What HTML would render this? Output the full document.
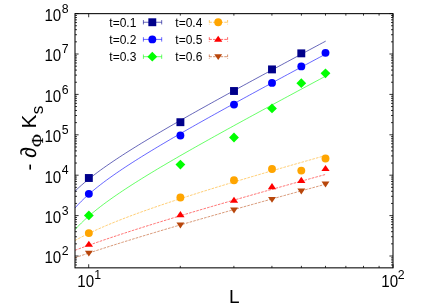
<!DOCTYPE html>
<html><head><meta charset="utf-8"><title>chart</title>
<style>html,body{margin:0;padding:0;background:#fff;}svg{display:block;will-change:transform;font-family:"Liberation Sans",sans-serif;}</style></head><body>
<svg width="436" height="305" viewBox="0 0 436 305">
<rect width="436" height="305" fill="#fff"/>
<path d="M75.0,256.00h3.6 M393.0,256.00h-3.6 M75.0,215.60h3.6 M393.0,215.60h-3.6 M75.0,175.20h3.6 M393.0,175.20h-3.6 M75.0,134.80h3.6 M393.0,134.80h-3.6 M75.0,94.40h3.6 M393.0,94.40h-3.6 M75.0,54.00h3.6 M393.0,54.00h-3.6 M75.0,13.60h3.6 M393.0,13.60h-3.6 M88.70,267.85v-3.6 M88.70,13.65v3.6 M393.00,267.85v-3.6 M393.00,13.65v3.6" stroke="#000" stroke-width="0.8" fill="none"/>
<path d="M75.0,264.96h2.0 M393.0,264.96h-2.0 M75.0,262.26h2.0 M393.0,262.26h-2.0 M75.0,259.92h2.0 M393.0,259.92h-2.0 M75.0,257.85h2.0 M393.0,257.85h-2.0 M75.0,243.84h2.0 M393.0,243.84h-2.0 M75.0,236.72h2.0 M393.0,236.72h-2.0 M75.0,231.68h2.0 M393.0,231.68h-2.0 M75.0,227.76h2.0 M393.0,227.76h-2.0 M75.0,224.56h2.0 M393.0,224.56h-2.0 M75.0,221.86h2.0 M393.0,221.86h-2.0 M75.0,219.52h2.0 M393.0,219.52h-2.0 M75.0,217.45h2.0 M393.0,217.45h-2.0 M75.0,203.44h2.0 M393.0,203.44h-2.0 M75.0,196.32h2.0 M393.0,196.32h-2.0 M75.0,191.28h2.0 M393.0,191.28h-2.0 M75.0,187.36h2.0 M393.0,187.36h-2.0 M75.0,184.16h2.0 M393.0,184.16h-2.0 M75.0,181.46h2.0 M393.0,181.46h-2.0 M75.0,179.12h2.0 M393.0,179.12h-2.0 M75.0,177.05h2.0 M393.0,177.05h-2.0 M75.0,163.04h2.0 M393.0,163.04h-2.0 M75.0,155.92h2.0 M393.0,155.92h-2.0 M75.0,150.88h2.0 M393.0,150.88h-2.0 M75.0,146.96h2.0 M393.0,146.96h-2.0 M75.0,143.76h2.0 M393.0,143.76h-2.0 M75.0,141.06h2.0 M393.0,141.06h-2.0 M75.0,138.72h2.0 M393.0,138.72h-2.0 M75.0,136.65h2.0 M393.0,136.65h-2.0 M75.0,122.64h2.0 M393.0,122.64h-2.0 M75.0,115.52h2.0 M393.0,115.52h-2.0 M75.0,110.48h2.0 M393.0,110.48h-2.0 M75.0,106.56h2.0 M393.0,106.56h-2.0 M75.0,103.36h2.0 M393.0,103.36h-2.0 M75.0,100.66h2.0 M393.0,100.66h-2.0 M75.0,98.32h2.0 M393.0,98.32h-2.0 M75.0,96.25h2.0 M393.0,96.25h-2.0 M75.0,82.24h2.0 M393.0,82.24h-2.0 M75.0,75.12h2.0 M393.0,75.12h-2.0 M75.0,70.08h2.0 M393.0,70.08h-2.0 M75.0,66.16h2.0 M393.0,66.16h-2.0 M75.0,62.96h2.0 M393.0,62.96h-2.0 M75.0,60.26h2.0 M393.0,60.26h-2.0 M75.0,57.92h2.0 M393.0,57.92h-2.0 M75.0,55.85h2.0 M393.0,55.85h-2.0 M75.0,41.84h2.0 M393.0,41.84h-2.0 M75.0,34.72h2.0 M393.0,34.72h-2.0 M75.0,29.68h2.0 M393.0,29.68h-2.0 M75.0,25.76h2.0 M393.0,25.76h-2.0 M75.0,22.56h2.0 M393.0,22.56h-2.0 M75.0,19.86h2.0 M393.0,19.86h-2.0 M75.0,17.52h2.0 M393.0,17.52h-2.0 M75.0,15.45h2.0 M393.0,15.45h-2.0 M180.30,267.85v-2.0 M180.30,13.65v2.0 M233.89,267.85v-2.0 M233.89,13.65v2.0 M271.91,267.85v-2.0 M271.91,13.65v2.0 M301.40,267.85v-2.0 M301.40,13.65v2.0 M325.49,267.85v-2.0 M325.49,13.65v2.0 M345.86,267.85v-2.0 M345.86,13.65v2.0 M363.51,267.85v-2.0 M363.51,13.65v2.0 M379.08,267.85v-2.0 M379.08,13.65v2.0" stroke="#000" stroke-width="0.8" fill="none"/>
<clipPath id="cp"><rect x="75.0" y="13.65" width="318.0" height="254.20000000000002"/></clipPath>
<g clip-path="url(#cp)" fill="none" stroke-width="0.6">
<path d="M75.00,191.16 L78.17,188.17 L81.35,185.31 L84.52,182.58 L87.69,179.96 L90.87,177.42 L94.04,174.96 L97.21,172.57 L100.39,170.23 L103.56,167.95 L106.73,165.72 L109.91,163.52 L113.08,161.36 L116.25,159.24 L119.43,157.15 L122.60,155.08 L125.77,153.04 L128.95,151.02 L132.12,149.03 L135.29,147.05 L138.47,145.09 L141.64,143.15 L144.82,141.23 L147.99,139.31 L151.16,137.42 L154.34,135.53 L157.51,133.66 L160.68,131.79 L163.86,129.94 L167.03,128.09 L170.20,126.26 L173.38,124.43 L176.55,122.61 L179.72,120.80 L182.90,118.99 L186.07,117.20 L189.24,115.40 L192.42,113.62 L195.59,111.83 L198.76,110.06 L201.94,108.28 L205.11,106.52 L208.28,104.75 L211.46,102.99 L214.63,101.24 L217.80,99.48 L220.98,97.74 L224.15,95.99 L227.32,94.25 L230.50,92.51 L233.67,90.77 L236.84,89.04 L240.02,87.30 L243.19,85.57 L246.36,83.85 L249.54,82.12 L252.71,80.40 L255.88,78.68 L259.06,76.96 L262.23,75.24 L265.41,73.52 L268.58,71.81 L271.75,70.09 L274.93,68.38 L278.10,66.67 L281.27,64.96 L284.45,63.25 L287.62,61.54 L290.79,59.84 L293.97,58.13 L297.14,56.43 L300.31,54.73 L303.49,53.02 L306.66,51.32 L309.83,49.62 L313.01,47.92 L316.18,46.22 L319.35,44.52 L322.53,42.82 L325.70,41.13" stroke="#00008b"/>
<path d="M75.00,208.00 L78.17,204.50 L81.35,201.24 L84.52,198.17 L87.69,195.27 L90.87,192.49 L94.04,189.83 L97.21,187.26 L100.39,184.77 L103.56,182.35 L106.73,179.99 L109.91,177.69 L113.08,175.44 L116.25,173.23 L119.43,171.05 L122.60,168.92 L125.77,166.81 L128.95,164.74 L132.12,162.69 L135.29,160.66 L138.47,158.66 L141.64,156.67 L144.82,154.71 L147.99,152.76 L151.16,150.83 L154.34,148.91 L157.51,147.01 L160.68,145.12 L163.86,143.24 L167.03,141.37 L170.20,139.51 L173.38,137.67 L176.55,135.83 L179.72,134.00 L182.90,132.17 L186.07,130.36 L189.24,128.55 L192.42,126.75 L195.59,124.95 L198.76,123.16 L201.94,121.38 L205.11,119.60 L208.28,117.83 L211.46,116.06 L214.63,114.29 L217.80,112.53 L220.98,110.77 L224.15,109.02 L227.32,107.27 L230.50,105.52 L233.67,103.78 L236.84,102.04 L240.02,100.30 L243.19,98.57 L246.36,96.83 L249.54,95.10 L252.71,93.37 L255.88,91.65 L259.06,89.92 L262.23,88.20 L265.41,86.48 L268.58,84.76 L271.75,83.04 L274.93,81.33 L278.10,79.61 L281.27,77.90 L284.45,76.19 L287.62,74.48 L290.79,72.77 L293.97,71.06 L297.14,69.36 L300.31,67.65 L303.49,65.95 L306.66,64.24 L309.83,62.54 L313.01,60.84 L316.18,59.14 L319.35,57.44 L322.53,55.74 L325.70,54.04" stroke="#0000ff"/>
<path d="M75.00,229.66 L78.17,226.21 L81.35,223.00 L84.52,219.97 L87.69,217.09 L90.87,214.34 L94.04,211.70 L97.21,209.15 L100.39,206.67 L103.56,204.27 L106.73,201.92 L109.91,199.63 L113.08,197.39 L116.25,195.19 L119.43,193.02 L122.60,190.89 L125.77,188.79 L128.95,186.72 L132.12,184.68 L135.29,182.66 L138.47,180.66 L141.64,178.68 L144.82,176.72 L147.99,174.77 L151.16,172.85 L154.34,170.93 L157.51,169.03 L160.68,167.14 L163.86,165.27 L167.03,163.40 L170.20,161.55 L173.38,159.70 L176.55,157.86 L179.72,156.03 L182.90,154.21 L186.07,152.40 L189.24,150.59 L192.42,148.79 L195.59,147.00 L198.76,145.21 L201.94,143.43 L205.11,141.65 L208.28,139.88 L211.46,138.11 L214.63,136.34 L217.80,134.58 L220.98,132.83 L224.15,131.07 L227.32,129.32 L230.50,127.58 L233.67,125.83 L236.84,124.09 L240.02,122.36 L243.19,120.62 L246.36,118.89 L249.54,117.16 L252.71,115.43 L255.88,113.71 L259.06,111.98 L262.23,110.26 L265.41,108.54 L268.58,106.82 L271.75,105.10 L274.93,103.39 L278.10,101.68 L281.27,99.96 L284.45,98.25 L287.62,96.54 L290.79,94.83 L293.97,93.13 L297.14,91.42 L300.31,89.71 L303.49,88.01 L306.66,86.31 L309.83,84.60 L313.01,82.90 L316.18,81.20 L319.35,79.50 L322.53,77.80 L325.70,76.10" stroke="#00ff00"/>
<path d="M75.00,240.53 L78.17,238.79 L81.35,237.12 L84.52,235.51 L87.69,233.95 L90.87,232.43 L94.04,230.95 L97.21,229.50 L100.39,228.09 L103.56,226.71 L106.73,225.36 L109.91,224.04 L113.08,222.74 L116.25,221.46 L119.43,220.20 L122.60,218.96 L125.77,217.74 L128.95,216.54 L132.12,215.35 L135.29,214.17 L138.47,213.01 L141.64,211.86 L144.82,210.73 L147.99,209.61 L151.16,208.49 L154.34,207.39 L157.51,206.30 L160.68,205.21 L163.86,204.14 L167.03,203.07 L170.20,202.02 L173.38,200.97 L176.55,199.92 L179.72,198.89 L182.90,197.86 L186.07,196.83 L189.24,195.82 L192.42,194.81 L195.59,193.80 L198.76,192.80 L201.94,191.80 L205.11,190.81 L208.28,189.83 L211.46,188.85 L214.63,187.87 L217.80,186.90 L220.98,185.93 L224.15,184.96 L227.32,184.00 L230.50,183.05 L233.67,182.09 L236.84,181.14 L240.02,180.19 L243.19,179.25 L246.36,178.31 L249.54,177.37 L252.71,176.43 L255.88,175.50 L259.06,174.57 L262.23,173.64 L265.41,172.72 L268.58,171.79 L271.75,170.87 L274.93,169.95 L278.10,169.04 L281.27,168.12 L284.45,167.21 L287.62,166.30 L290.79,165.39 L293.97,164.48 L297.14,163.58 L300.31,162.67 L303.49,161.77 L306.66,160.87 L309.83,159.97 L313.01,159.07 L316.18,158.18 L319.35,157.28 L322.53,156.39 L325.70,155.50" stroke="#ffa500" stroke-dasharray="2.6 1.15" stroke-width="0.55"/>
<path d="M75.00,250.29 L78.17,249.10 L81.35,247.94 L84.52,246.78 L87.69,245.64 L90.87,244.51 L94.04,243.39 L97.21,242.28 L100.39,241.19 L103.56,240.10 L106.73,239.02 L109.91,237.95 L113.08,236.89 L116.25,235.83 L119.43,234.78 L122.60,233.75 L125.77,232.71 L128.95,231.69 L132.12,230.67 L135.29,229.65 L138.47,228.64 L141.64,227.64 L144.82,226.64 L147.99,225.65 L151.16,224.66 L154.34,223.68 L157.51,222.70 L160.68,221.72 L163.86,220.75 L167.03,219.78 L170.20,218.82 L173.38,217.86 L176.55,216.91 L179.72,215.95 L182.90,215.00 L186.07,214.06 L189.24,213.11 L192.42,212.17 L195.59,211.24 L198.76,210.30 L201.94,209.37 L205.11,208.44 L208.28,207.51 L211.46,206.59 L214.63,205.67 L217.80,204.75 L220.98,203.83 L224.15,202.91 L227.32,202.00 L230.50,201.09 L233.67,200.18 L236.84,199.27 L240.02,198.36 L243.19,197.46 L246.36,196.56 L249.54,195.66 L252.71,194.76 L255.88,193.86 L259.06,192.96 L262.23,192.07 L265.41,191.17 L268.58,190.28 L271.75,189.39 L274.93,188.50 L278.10,187.61 L281.27,186.72 L284.45,185.84 L287.62,184.95 L290.79,184.07 L293.97,183.19 L297.14,182.30 L300.31,181.42 L303.49,180.54 L306.66,179.66 L309.83,178.79 L313.01,177.91 L316.18,177.03 L319.35,176.16 L322.53,175.28 L325.70,174.41" stroke="#ff0000" stroke-dasharray="2.6 1.15" stroke-width="0.55"/>
<path d="M75.00,257.70 L78.17,256.62 L81.35,255.55 L84.52,254.49 L87.69,253.43 L90.87,252.38 L94.04,251.35 L97.21,250.31 L100.39,249.29 L103.56,248.27 L106.73,247.25 L109.91,246.24 L113.08,245.24 L116.25,244.24 L119.43,243.25 L122.60,242.26 L125.77,241.28 L128.95,240.30 L132.12,239.32 L135.29,238.35 L138.47,237.39 L141.64,236.42 L144.82,235.46 L147.99,234.51 L151.16,233.56 L154.34,232.61 L157.51,231.66 L160.68,230.72 L163.86,229.78 L167.03,228.84 L170.20,227.91 L173.38,226.97 L176.55,226.04 L179.72,225.12 L182.90,224.19 L186.07,223.27 L189.24,222.35 L192.42,221.43 L195.59,220.52 L198.76,219.60 L201.94,218.69 L205.11,217.78 L208.28,216.87 L211.46,215.97 L214.63,215.06 L217.80,214.16 L220.98,213.26 L224.15,212.36 L227.32,211.46 L230.50,210.57 L233.67,209.67 L236.84,208.78 L240.02,207.88 L243.19,206.99 L246.36,206.10 L249.54,205.22 L252.71,204.33 L255.88,203.44 L259.06,202.56 L262.23,201.67 L265.41,200.79 L268.58,199.91 L271.75,199.03 L274.93,198.15 L278.10,197.27 L281.27,196.39 L284.45,195.51 L287.62,194.64 L290.79,193.76 L293.97,192.89 L297.14,192.01 L300.31,191.14 L303.49,190.27 L306.66,189.40 L309.83,188.53 L313.01,187.66 L316.18,186.79 L319.35,185.92 L322.53,185.05 L325.70,184.19" stroke="#b8460b" stroke-dasharray="2.6 1.15" stroke-width="0.55"/>
</g>
<rect x="84.90" y="174.05" width="7.9" height="7.9" fill="#00008b"/>
<rect x="176.45" y="118.25" width="7.9" height="7.9" fill="#00008b"/>
<rect x="230.05" y="87.05" width="7.9" height="7.9" fill="#00008b"/>
<rect x="268.05" y="65.45" width="7.9" height="7.9" fill="#00008b"/>
<rect x="297.35" y="49.40" width="7.9" height="7.9" fill="#00008b"/>
<circle cx="88.85" cy="193.85" r="3.95" fill="#0000ff"/>
<circle cx="180.40" cy="135.45" r="3.95" fill="#0000ff"/>
<circle cx="234.00" cy="104.60" r="3.95" fill="#0000ff"/>
<circle cx="272.00" cy="82.90" r="3.95" fill="#0000ff"/>
<circle cx="301.30" cy="66.40" r="3.95" fill="#0000ff"/>
<circle cx="325.50" cy="52.85" r="3.95" fill="#0000ff"/>
<path d="M88.85,210.55 L93.75,215.45 L88.85,220.35 L83.95,215.45 Z" fill="#00ff00"/>
<path d="M180.40,159.70 L185.30,164.60 L180.40,169.50 L175.50,164.60 Z" fill="#00ff00"/>
<path d="M234.00,132.60 L238.90,137.50 L234.00,142.40 L229.10,137.50 Z" fill="#00ff00"/>
<path d="M272.00,103.50 L276.90,108.40 L272.00,113.30 L267.10,108.40 Z" fill="#00ff00"/>
<path d="M301.30,78.30 L306.20,83.20 L301.30,88.10 L296.40,83.20 Z" fill="#00ff00"/>
<path d="M325.50,68.45 L330.40,73.35 L325.50,78.25 L320.60,73.35 Z" fill="#00ff00"/>
<circle cx="88.85" cy="233.10" r="3.95" fill="#ffa500"/>
<circle cx="180.40" cy="197.50" r="3.95" fill="#ffa500"/>
<circle cx="234.00" cy="180.20" r="3.95" fill="#ffa500"/>
<circle cx="272.00" cy="169.00" r="3.95" fill="#ffa500"/>
<circle cx="301.30" cy="170.60" r="3.95" fill="#ffa500"/>
<circle cx="325.50" cy="158.50" r="3.95" fill="#ffa500"/>
<path d="M88.85,240.70 L93.00,246.85 L84.70,246.85 Z" fill="#ff0000"/>
<path d="M180.40,211.10 L184.55,217.25 L176.25,217.25 Z" fill="#ff0000"/>
<path d="M234.00,196.70 L238.15,202.85 L229.85,202.85 Z" fill="#ff0000"/>
<path d="M272.00,183.10 L276.15,189.25 L267.85,189.25 Z" fill="#ff0000"/>
<path d="M301.30,176.80 L305.45,182.95 L297.15,182.95 Z" fill="#ff0000"/>
<path d="M325.50,164.90 L329.65,171.05 L321.35,171.05 Z" fill="#ff0000"/>
<path d="M88.85,256.60 L92.80,250.70 L84.90,250.70 Z" fill="#b8460b"/>
<path d="M180.40,228.40 L184.35,222.50 L176.45,222.50 Z" fill="#b8460b"/>
<path d="M234.00,213.50 L237.95,207.60 L230.05,207.60 Z" fill="#b8460b"/>
<path d="M272.00,202.80 L275.95,196.90 L268.05,196.90 Z" fill="#b8460b"/>
<path d="M301.30,194.40 L305.25,188.50 L297.35,188.50 Z" fill="#b8460b"/>
<path d="M325.50,187.50 L329.45,181.60 L321.55,181.60 Z" fill="#b8460b"/>
<rect x="75.0" y="13.65" width="318.0" height="254.20000000000002" fill="none" stroke="#000" stroke-width="1.05"/>
<text transform="translate(61.20,263.30) scale(0.9,1)" font-size="16.8" text-anchor="end">10</text><text x="61.65" y="255.15" font-size="12.3">2</text>
<text transform="translate(61.20,222.90) scale(0.9,1)" font-size="16.8" text-anchor="end">10</text><text x="61.65" y="214.75" font-size="12.3">3</text>
<text transform="translate(61.20,182.50) scale(0.9,1)" font-size="16.8" text-anchor="end">10</text><text x="61.65" y="174.35" font-size="12.3">4</text>
<text transform="translate(61.20,142.10) scale(0.9,1)" font-size="16.8" text-anchor="end">10</text><text x="61.65" y="133.95" font-size="12.3">5</text>
<text transform="translate(61.20,101.70) scale(0.9,1)" font-size="16.8" text-anchor="end">10</text><text x="61.65" y="93.55" font-size="12.3">6</text>
<text transform="translate(61.20,61.30) scale(0.9,1)" font-size="16.8" text-anchor="end">10</text><text x="61.65" y="53.15" font-size="12.3">7</text>
<text transform="translate(61.20,20.90) scale(0.9,1)" font-size="16.8" text-anchor="end">10</text><text x="61.65" y="12.75" font-size="12.3">8</text>
<text transform="translate(94.05,286.80) scale(0.9,1)" font-size="16.8" text-anchor="end">10</text><text x="94.30" y="278.70" font-size="12.3">1</text>
<text transform="translate(398.05,286.80) scale(0.9,1)" font-size="16.8" text-anchor="end">10</text><text x="397.80" y="278.50" font-size="12.3">2</text>
<text x="228.9" y="303" font-size="19">L</text>
<g transform="translate(35.7,0) rotate(-90)">
<text x="-170.4" y="0" font-size="20.5">-</text>
<text x="-158.0" y="0" font-size="22">∂</text>
<text x="-147.0" y="7.5" font-size="17.6" font-family="Liberation Serif,serif" stroke="#000" stroke-width="0.15">Φ</text>
<text x="-128.5" y="0" font-size="20.8">K</text>
<text x="-114.3" y="7.4" font-size="17">s</text>
</g>
<text x="109.3" y="26.90" font-size="12">t=0.1</text>
<path d="M143.40,22.25H161.70" stroke="#00008b" stroke-width="0.6" fill="none"/>
<path d="M143.40,20.05v4.4 M161.70,20.05v4.4" stroke="#00008b" stroke-width="0.6" fill="none"/>
<rect x="148.35" y="18.30" width="7.9" height="7.9" fill="#00008b"/>
<text x="109.3" y="44.05" font-size="12">t=0.2</text>
<path d="M143.40,39.4H161.70" stroke="#0000ff" stroke-width="0.6" fill="none"/>
<path d="M143.40,37.199999999999996v4.4 M161.70,37.199999999999996v4.4" stroke="#0000ff" stroke-width="0.6" fill="none"/>
<circle cx="152.30" cy="39.40" r="3.95" fill="#0000ff"/>
<text x="109.3" y="61.35" font-size="12">t=0.3</text>
<path d="M143.40,56.7H161.70" stroke="#00ff00" stroke-width="0.6" fill="none"/>
<path d="M143.40,54.5v4.4 M161.70,54.5v4.4" stroke="#00ff00" stroke-width="0.6" fill="none"/>
<path d="M152.30,51.80 L157.20,56.70 L152.30,61.60 L147.40,56.70 Z" fill="#00ff00"/>
<text x="175.35" y="26.90" font-size="12">t=0.4</text>
<path d="M209.30,22.25H227.60" stroke="#ffa500" stroke-width="0.6" fill="none" stroke-dasharray="2.6 1.15"/>
<path d="M209.30,20.05v4.4 M227.60,20.05v4.4" stroke="#ffa500" stroke-width="0.6" fill="none" stroke-dasharray="2.6 1.15"/>
<circle cx="218.20" cy="22.25" r="3.95" fill="#ffa500"/>
<text x="175.35" y="44.05" font-size="12">t=0.5</text>
<path d="M209.30,39.4H227.60" stroke="#ff0000" stroke-width="0.6" fill="none" stroke-dasharray="2.6 1.15"/>
<path d="M209.30,37.199999999999996v4.4 M227.60,37.199999999999996v4.4" stroke="#ff0000" stroke-width="0.6" fill="none" stroke-dasharray="2.6 1.15"/>
<path d="M218.20,35.70 L222.35,41.85 L214.05,41.85 Z" fill="#ff0000"/>
<text x="175.35" y="61.35" font-size="12">t=0.6</text>
<path d="M209.30,56.7H227.60" stroke="#b8460b" stroke-width="0.6" fill="none" stroke-dasharray="2.6 1.15"/>
<path d="M209.30,54.5v4.4 M227.60,54.5v4.4" stroke="#b8460b" stroke-width="0.6" fill="none" stroke-dasharray="2.6 1.15"/>
<path d="M218.20,60.10 L222.15,54.20 L214.25,54.20 Z" fill="#b8460b"/>
</svg></body></html>
